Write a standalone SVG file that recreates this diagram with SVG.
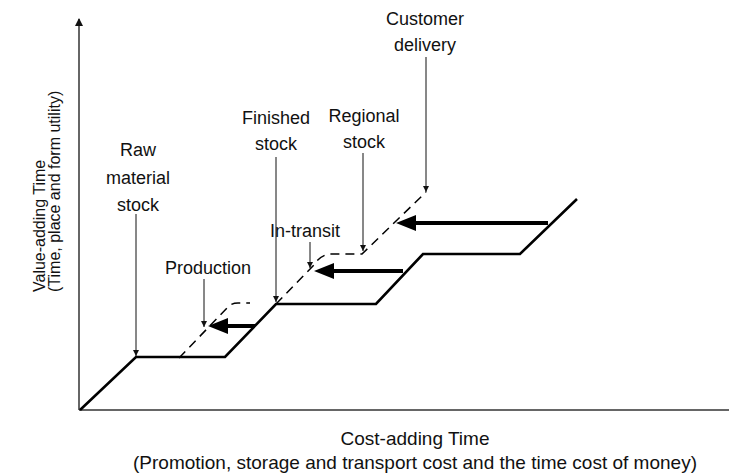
<svg xmlns="http://www.w3.org/2000/svg" width="730" height="474" viewBox="0 0 730 474">
<style>
text{font-family:"Liberation Sans",Arial,sans-serif;fill:#111;}
.lbl{font-size:18px;text-anchor:middle;}
.ax{font-size:16px;}
.bt{font-size:19px;text-anchor:middle;}
.axis{stroke:#333;stroke-width:1.5;fill:none;}
.stair{stroke:#000;stroke-width:2.6;fill:none;stroke-linejoin:miter;}
.dash{stroke:#000;stroke-width:1.5;fill:none;stroke-dasharray:9 6;}
.ptr{stroke:#111;stroke-width:1;fill:none;marker-end:url(#small);}
.thick{stroke:#000;stroke-width:4;fill:none;marker-end:url(#big);}
</style>
<defs>
<marker id="small" markerUnits="userSpaceOnUse" markerWidth="8" markerHeight="8" refX="6" refY="3" orient="auto"><path d="M0,0 L6,3 L0,6 z" fill="#111"/></marker>
<marker id="big" markerUnits="userSpaceOnUse" markerWidth="22" markerHeight="18" refX="0" refY="8" orient="auto"><path d="M0,0 L20,8 L0,16 z" fill="#000"/></marker>
<marker id="axhead" markerUnits="userSpaceOnUse" markerWidth="10" markerHeight="10" refX="7" refY="4" orient="auto"><path d="M0,0 L8,4 L0,8 z" fill="#111"/></marker>
</defs>

<g id="axes">
<line class="axis" x1="79" y1="410" x2="79" y2="19" marker-end="url(#axhead)"/>
<line class="axis" x1="79" y1="410" x2="729" y2="410"/>
</g>

<g id="connectors">
<path id="staircase" class="stair" d="M80,410 L136,357 L225,357 L276,304 L376,304 L423,254 L520,254 L577,199"/>
<path class="dash" d="M179,358 L227,308 Q231,303 238,303 L250,303"/>
<path class="dash" d="M276,304 L314,265 Q320,255 330,254 L362,254 L426,192"/>
<line class="thick" x1="255" y1="326" x2="228" y2="326"/>
<line class="thick" x1="403" y1="271" x2="334" y2="271"/>
<line class="thick" x1="548" y1="223" x2="416" y2="223"/>
<line class="ptr" x1="136" y1="214" x2="136" y2="356"/>
<line class="ptr" x1="276" y1="157" x2="276" y2="302"/>
<line class="ptr" x1="363" y1="153" x2="363" y2="251"/>
<line class="ptr" x1="426" y1="57" x2="426" y2="192"/>
<line class="ptr" x1="204" y1="279" x2="204" y2="327"/>
<line class="ptr" x1="310" y1="242" x2="310" y2="268"/>
</g>

<g id="raw-material-stock"><text class="lbl" x="138" y="156">Raw</text><text class="lbl" x="138" y="184">material</text><text class="lbl" x="138" y="211">stock</text></g>
<g id="production"><text class="lbl" x="208" y="274">Production</text></g>
<g id="finished-stock"><text class="lbl" x="276" y="124">Finished</text><text class="lbl" x="276" y="150">stock</text></g>
<g id="in-transit"><text class="lbl" x="305" y="237">In-transit</text></g>
<g id="regional-stock"><text class="lbl" x="364" y="122">Regional</text><text class="lbl" x="364" y="148">stock</text></g>
<g id="customer-delivery"><text class="lbl" x="425" y="25">Customer</text><text class="lbl" x="425" y="51">delivery</text></g>

<g id="y-axis-label">
<text class="ax" transform="translate(45,292) rotate(-90)">Value-adding Time</text>
<text class="ax" transform="translate(60,292) rotate(-90)">(Time, place and form utility)</text>
</g>
<g id="x-axis-label">
<text class="bt" x="415" y="445">Cost-adding Time</text>
<text class="bt" x="415" y="469">(Promotion, storage and transport cost and the time cost of money)</text>
</g>
</svg>
